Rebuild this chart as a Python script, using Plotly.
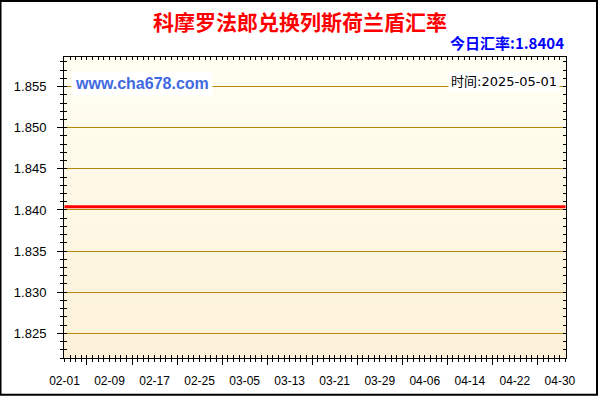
import base64
import plotly.graph_objects as go

# exchange rate series (flat over the period)
dates = ["2025-02-01", "2025-05-01"]
rates = [1.8404, 1.8404]

tick_dates = ["2025-02-01", "2025-02-09", "2025-02-17", "2025-02-25",
              "2025-03-05", "2025-03-13", "2025-03-21", "2025-03-29",
              "2025-04-06", "2025-04-14", "2025-04-22", "2025-04-30"]
tick_labels = ["02-01", "02-09", "02-17", "02-25", "03-05", "03-13",
               "03-21", "03-29", "04-06", "04-14", "04-22", "04-30"]

title_text = "科摩罗法郎兑换列斯荷兰盾汇率"
today_rate = "1.8404"
last_date = "2025-05-01"
site = "www.cha678.com"

X_RANGE = ["2025-01-31 22:00", "2025-05-01 02:00"]
Y_RANGE = [1.8220, 1.8586]

W, H = 600, 400
L, R, T, B = 64, 34, 57, 39
PW, PH = W - L - R, H - T - B
DAY = 86400000

FONT = "Arial, Liberation Sans, Noto Sans CJK SC, sans-serif"
CJK = "Noto Sans CJK SC, sans-serif"
GRID = "#B8860B"

# soft vertical gradient for the plot background
svg = ('<svg xmlns="http://www.w3.org/2000/svg" width="10" height="100" '
       'viewBox="0 0 10 100" preserveAspectRatio="none"><defs>'
       '<linearGradient id="g" x1="0" y1="0" x2="0" y2="1">'
       '<stop offset="0" stop-color="#FFFFF2"/><stop offset="1" stop-color="#FDF1D8"/>'
       '</linearGradient></defs><rect width="10" height="100" fill="url(#g)"/></svg>')
bg_src = "data:image/svg+xml;base64," + base64.b64encode(svg.encode()).decode()


def px_x(p):
    return (p - L) / PW


def px_y(p):
    return (H - B - p) / PH


fig = go.Figure()
fig.add_trace(go.Scatter(x=dates, y=rates, mode="lines",
                         line=dict(color="#FF0000", width=3),
                         hoverinfo="skip", showlegend=False))
# helper traces so the overlay tick axes get drawn
fig.add_trace(go.Scatter(x=dates, y=rates, xaxis="x2", yaxis="y", mode="lines",
                         line=dict(color="rgba(0,0,0,0)", width=0),
                         hoverinfo="skip", showlegend=False))
fig.add_trace(go.Scatter(x=dates, y=rates, xaxis="x3", yaxis="y2", mode="lines",
                         line=dict(color="rgba(0,0,0,0)", width=0),
                         hoverinfo="skip", showlegend=False))

fig.update_layout(
    width=W, height=H,
    margin=dict(l=L, r=R, t=T, b=B),
    paper_bgcolor="white",
    plot_bgcolor="#FEF8E6",
    font=dict(family=FONT, color="black"),
    title=dict(text="<b>" + title_text + "</b>", x=0.5, xref="container",
               xanchor="center", y=1 - 23 / H, yref="container", yanchor="middle",
               font=dict(family=CJK, size=21, color="#FF0000")),
    xaxis=dict(type="date", range=X_RANGE, tickvals=tick_dates, ticktext=tick_labels,
               ticks="", ticklabelstandoff=12, showgrid=False, zeroline=False,
               showline=True, linecolor="black", linewidth=1, mirror=True,
               tickfont=dict(size=12, color="black")),
    xaxis2=dict(type="date", range=X_RANGE, overlaying="x", anchor="y", side="bottom",
                tick0="2025-02-05", dtick=8 * DAY, ticks="outside", ticklen=6,
                tickcolor="black", showticklabels=False, showgrid=False,
                zeroline=False, showline=False,
                minor=dict(tick0="2025-02-01", dtick=DAY, ticks="outside",
                           ticklen=3, tickcolor="black", showgrid=False)),
    xaxis3=dict(type="date", range=X_RANGE, overlaying="x", anchor="y", side="bottom",
                tick0="2025-02-01", dtick=DAY, ticks="inside", ticklen=3,
                tickcolor="black", mirror="ticks", showticklabels=False,
                showgrid=False, zeroline=False, showline=False),
    yaxis=dict(range=Y_RANGE, tick0=1.825, dtick=0.005, tickformat=".3f",
               ticks="outside", ticklen=6, tickcolor="black", ticklabelstandoff=8,
               showgrid=True, gridcolor=GRID, gridwidth=1, zeroline=False,
               showline=True, linecolor="black", linewidth=1, mirror=True,
               tickfont=dict(size=13, color="black"),
               minor=dict(tick0=1.825, dtick=0.001, ticks="outside", ticklen=3,
                          tickcolor="black", showgrid=False)),
    yaxis2=dict(range=Y_RANGE, overlaying="y", anchor="x", side="left",
                tick0=1.825, dtick=0.001, ticks="inside", ticklen=3,
                tickcolor="black", mirror="ticks", showticklabels=False,
                showgrid=False, zeroline=False, showline=False),
    images=[dict(source=bg_src, xref="paper", yref="paper", x=0, y=1,
                 sizex=1, sizey=1, xanchor="left", yanchor="top",
                 sizing="stretch", layer="below")],
    shapes=[dict(type="rect", xref="paper", yref="paper",
                 x0=px_x(0.5), x1=px_x(597), y0=px_y(398), y1=px_y(0.5),
                 line=dict(color="black", width=2), fillcolor="rgba(0,0,0,0)")],
    annotations=[
        dict(text="<b>今日汇率:" + today_rate + "</b>", xref="paper", yref="paper",
             x=1, y=px_y(42), xanchor="right", yanchor="middle", showarrow=False,
             font=dict(family=CJK, size=15, color="#0000FF")),
        dict(text="<b>" + site + "</b>", xref="paper", yref="paper",
             x=px_x(71), y=px_y(84), xanchor="left", yanchor="middle", showarrow=False,
             bgcolor="white", borderpad=3,
             font=dict(family=FONT, size=16, color="#4169E1")),
        dict(text="时间:" + last_date, xref="paper", yref="paper",
             x=px_x(560), y=px_y(82), xanchor="right", yanchor="middle", showarrow=False,
             bgcolor="white", borderpad=2,
             font=dict(family="DejaVu Sans, Noto Sans CJK SC, sans-serif", size=13,
                       color="black")),
    ],
)

# drop the browser's default page margin so the figure sits at the corner
fig.write_html("out.html", config={"displayModeBar": False},
               post_script="document.body.style.margin='0';document.body.style.padding='0';")
